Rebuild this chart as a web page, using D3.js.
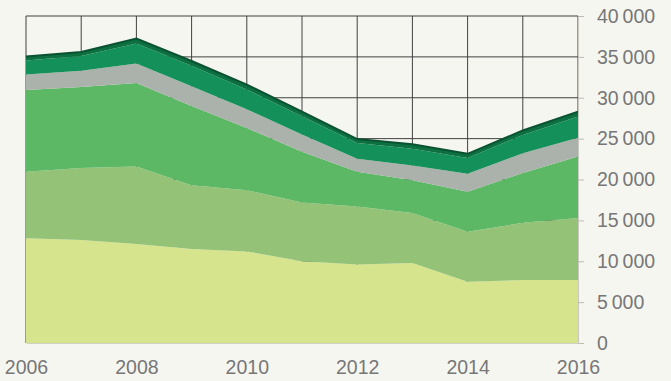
<!DOCTYPE html>
<html>
<head>
<meta charset="utf-8">
<script src="https://cdn.jsdelivr.net/npm/d3@7"></script>
<style>
    html, body { margin: 0; padding: 0; background: #f6f6f1; }
    svg { display: block; }
</style>
</head>
<body>
<div id="chart"></div>
<script>
// data, bottom layer first
const years = [2006, 2007, 2008, 2009, 2010, 2011, 2012, 2013, 2014, 2015, 2016]
const paleSeries  = [12800, 12600, 12100, 11500, 11200, 10000, 9600, 9800, 7500, 7700, 7700]
const oliveSeries = [8150, 8800, 9500, 7800, 7500, 7200, 7100, 6100, 6100, 7000, 7600]
const greenSeries = [10000, 9900, 10200, 9700, 7600, 6200, 4250, 4000, 4900, 6100, 7500]
const graySeries  = [1900, 2000, 2400, 2400, 2300, 2100, 1600, 1800, 2200, 2400, 2300]
const darkSeries  = [1700, 1800, 2450, 2500, 2400, 2250, 1900, 2050, 1940, 2250, 2600]
const topSeries   = [500, 500, 600, 600, 600, 550, 500, 550, 500, 550, 600]
const yTicks = [0, 5000, 10000, 15000, 20000, 25000, 30000, 35000, 40000]
const xTicks = [2006, 2008, 2010, 2012, 2014, 2016]

const keys = ["pale", "olive", "green", "gray", "dark", "top"]
const colors = ["#d5e48d", "#94c378", "#5db866", "#aab2ab", "#14905a", "#0c7040"]

const width = 671
const height = 381
const marginLeft = 26
const marginRight = 93      // plot ends at x = 578
const marginTop = 16
const marginBottom = 38     // baseline at y = 343

const table = years.map((y, i) => ({
    year: y,
    pale: paleSeries[i],
    olive: oliveSeries[i],
    green: greenSeries[i],
    gray: graySeries[i],
    dark: darkSeries[i],
    top: topSeries[i]
}))

const xScale = d3.scaleLinear([2006, 2016], [marginLeft, width - marginRight])
const yScale = d3.scaleLinear([0, 40000], [height - marginBottom, marginTop])

const fmt = d3.formatLocale({ decimal: ".", thousands: "\u2009", grouping: [3], currency: ["", ""] }).format(",d")

const svg = d3.select("#chart")
    .append("svg")
    .attr("width", width)
    .attr("height", height)
    .attr("viewBox", [0, 0, width, height])

// grid behind the areas
svg.append("g")
    .attr("stroke", "#404040")
    .attr("stroke-width", 1)
    .call(g => g.selectAll("line.v")
        .data(years)
        .join("line")
        .attr("class", "v")
        .attr("x1", d => xScale(d))
        .attr("x2", d => xScale(d))
        .attr("y1", yScale(40000))
        .attr("y2", yScale(0)))
    .call(g => g.selectAll("line.h")
        .data(yTicks.filter(d => d > 0))
        .join("line")
        .attr("class", "h")
        .attr("x1", marginLeft)
        .attr("x2", width - marginRight)
        .attr("y1", d => yScale(d))
        .attr("y2", d => yScale(d)))

const stack = d3.stack().keys(keys)
const series = stack(table)

const area = d3.area()
    .x(d => xScale(d.data.year))
    .y0(d => yScale(d[0]))
    .y1(d => yScale(d[1]))

svg.append("g")
    .selectAll("path")
    .data(series)
    .join("path")
    .attr("fill", (d, i) => colors[i])
    .attr("d", area)

// dark edge along the top of the stack
svg.append("path")
    .datum(series[series.length - 1])
    .attr("fill", "none")
    .attr("stroke", "#0a5232")
    .attr("stroke-width", 2)
    .attr("d", d3.line().x(d => xScale(d.data.year)).y(d => yScale(d[1])))

// right axis
const yAxis = d3.axisRight(yScale)
    .tickValues(yTicks)
    .tickSize(6)
    .tickPadding(13)
    .tickFormat(fmt)

svg.append("g")
    .attr("transform", `translate(${width - marginRight},0)`)
    .call(yAxis)
    .call(g => g.select(".domain").attr("stroke", "#c8c8c0"))
    .call(g => g.selectAll(".tick line").attr("stroke", "#bdbdb5"))
    .call(g => g.selectAll(".tick text")
        .attr("fill", "#777")
        .style("font-family", "'Liberation Sans', sans-serif")
        .style("font-size", "19.5px"))

// bottom axis
const xAxis = d3.axisBottom(xScale)
    .tickValues(xTicks)
    .tickSize(0)
    .tickPadding(17)
    .tickFormat(d3.format("d"))

svg.append("g")
    .attr("transform", `translate(0,${height - marginBottom})`)
    .call(xAxis)
    .call(g => g.select(".domain").attr("stroke", "#d0d0c4"))
    .call(g => g.selectAll(".tick text")
        .attr("fill", "#777")
        .style("font-family", "'Liberation Sans', sans-serif")
        .style("font-size", "19.5px"))
</script>
</body>
</html>
